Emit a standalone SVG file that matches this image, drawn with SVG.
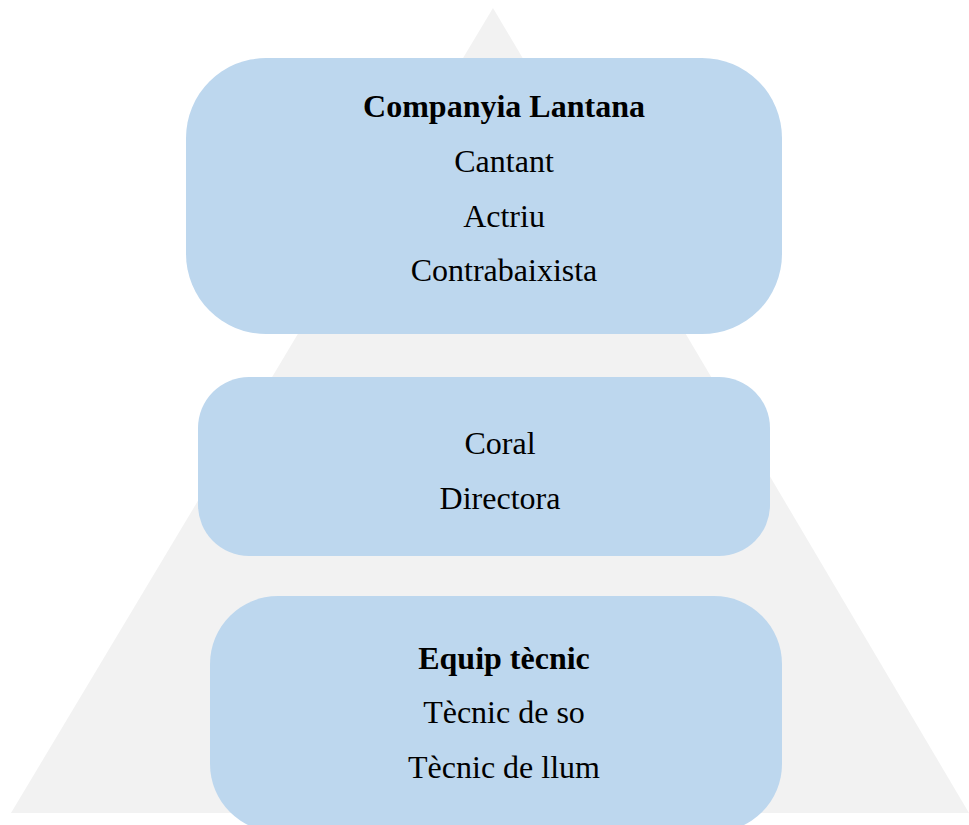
<svg xmlns="http://www.w3.org/2000/svg" width="969" height="825" viewBox="0 0 969 825">
<style>
.box{fill:#BDD7EE;}
.t{font-family:"Liberation Serif","Times New Roman",serif;font-size:32px;fill:#000;text-anchor:middle;}
.b{font-weight:bold;}
</style>
<rect x="0" y="0" width="969" height="825" fill="#ffffff"/>
<polygon points="493,8 969,813 11,813" fill="#F2F2F2"/>
<g id="node1">
<rect class="box" x="186" y="58" width="596" height="276" rx="80" ry="80"/>
<text class="t b" x="504" y="117">Companyia Lantana</text>
<text class="t" x="504" y="172">Cantant</text>
<text class="t" x="504" y="227">Actriu</text>
<text class="t" x="504" y="281">Contrabaixista</text>
</g>
<g id="node2">
<rect class="box" x="198" y="377" width="572" height="179" rx="51" ry="51"/>
<text class="t" x="500" y="454">Coral</text>
<text class="t" x="500" y="509">Directora</text>
</g>
<g id="node3">
<rect class="box" x="210" y="596" width="572" height="236" rx="68" ry="68"/>
<text class="t b" x="504" y="669">Equip tècnic</text>
<text class="t" x="504" y="723">Tècnic de so</text>
<text class="t" x="504" y="778">Tècnic de llum</text>
</g>
<g id="connectors"></g>
</svg>
